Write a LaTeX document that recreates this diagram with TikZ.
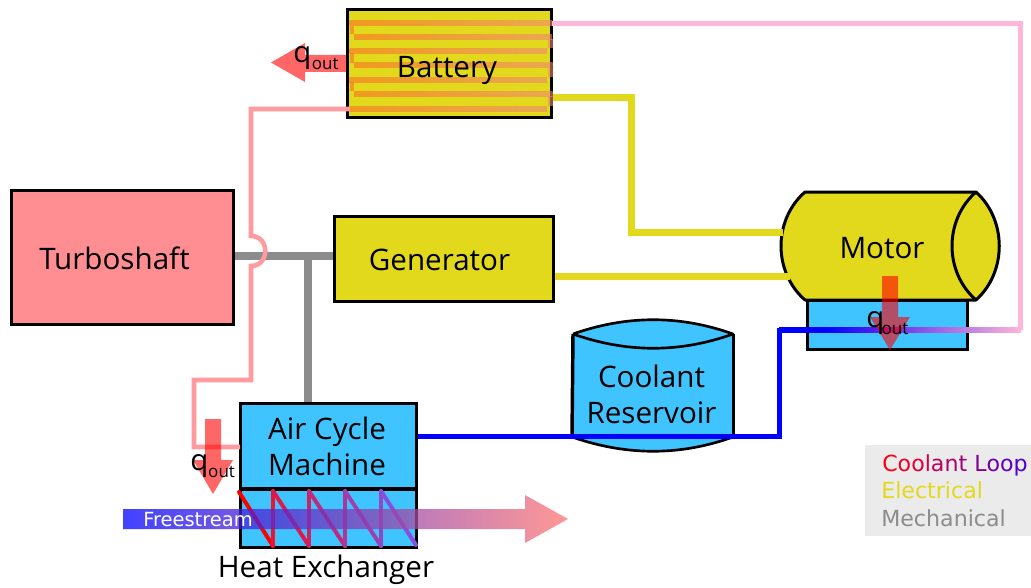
\documentclass[tikz,border=0pt]{standalone}
\usepackage{fontspec}
\setmainfont{Open Sans}
\newfontfamily\legendfont{DejaVu Sans}
\usetikzlibrary{calc}
\definecolor{ylw}{HTML}{E3D91C}
\definecolor{sky}{HTML}{40C4FF}
\definecolor{rosy}{HTML}{FF8E93}
\definecolor{mech}{HTML}{8C8C8C}
\definecolor{hotline}{HTML}{FF9A9F}
\definecolor{coldpink}{HTML}{FFB6D9}
\definecolor{serpA}{HTML}{F97022}
\definecolor{serpB}{HTML}{F08773}
\newcommand{\serpbar}[3]{\shade[left color=serpA,right color=serpB,opacity=.6] (#1,#3-2.5) rectangle (#2,#3+2.5);}
\newcommand{\qoutlabel}[1]{\fontsize{22}{26}\selectfont q\kern#1\raisebox{-5.25pt}{\fontsize{12.75}{15}\selectfont out}}
\tikzset{
  x=0.75pt,y=-0.75pt,
  blockbox/.style={draw=black,line width=2.25pt,inner sep=0pt,align=center},
  plainlabel/.style={inner sep=0pt,align=center,font=\fontsize{22.2}{27}\selectfont},
  shapeline/.style={draw=black,line width=2.25pt,line join=round},
  mechline/.style={draw=mech,line width=6pt},
  elecline/.style={draw=ylw,line width=5.25pt},
  hotpipe/.style={draw=hotline,line width=3.4pt},
  coldpipe/.style={draw=coldpink,line width=3.75pt},
  heatarrow/.style={fill=red,opacity=.6},
  qlabel/.style={inner sep=0pt,anchor=base west},
  legendlabel/.style={inner sep=0pt,anchor=base west,font=\legendfont\fontsize{16.6}{18}\selectfont},
}
\begin{document}
\begin{tikzpicture}
\useasboundingbox (0,0) rectangle (1031,588);
% legend
\fill[black!8] (865,445) rectangle (1031,536);
\node[legendlabel] (legA) at (882,471) {\textcolor[HTML]{FF0014}{C}\textcolor[HTML]{EE0028}{o}\textcolor[HTML]{E0003C}{o}\textcolor[HTML]{D20046}{l}\textcolor[HTML]{C0005A}{a}\textcolor[HTML]{B0006A}{n}\textcolor[HTML]{A00078}{t} \textcolor[HTML]{800090}{L}\textcolor[HTML]{7000A5}{o}\textcolor[HTML]{6000B8}{o}\textcolor[HTML]{5000CC}{p}};
\node[legendlabel,text=ylw] (legB) at (881,498) {Electrical};
\node[legendlabel,text=mech] (legC) at (881,526) {Mechanical};
% ports
\coordinate (batHot) at (350,109);
\coordinate (batPink) at (552,23.5);
\coordinate (batElec) at (553,98);
\coordinate (motElecA) at (783,232);
\coordinate (genElec) at (555,276);
\coordinate (motElecB) at (790,276);
\coordinate (acmHot) at (240,447);
\coordinate (acmCold) at (418,436.5);
\coordinate (gearT) at (308,256);
% mechanical
\node[blockbox,fill=rosy,minimum width=166.5pt,minimum height=100.5pt] (turbo) at (122,257) {};
\node[blockbox,fill=ylw,minimum width=164.5pt,minimum height=64pt] (gen) at (444,259) {};
\node[blockbox,fill=sky,minimum width=132pt,minimum height=64pt] (acm) at (328.5,446) {};
\node[blockbox,fill=sky,minimum width=132pt,minimum height=43.5pt] (hx) at (328.5,518) {};
\draw[mechline] (turbo.east |- gearT) -- (gen.west |- gearT);
\draw[mechline] (gearT) -- (acm.north -| gearT);
% battery
\node[blockbox,fill=ylw,minimum width=153.4pt,minimum height=81pt] (bat) at (449.5,64) {};
\serpbar{349.5}{552}{23.5}
\serpbar{354}{552}{37}
\serpbar{349.5}{547}{51}
\serpbar{354}{552.5}{65.5}
\serpbar{349.5}{547}{80}
\serpbar{354}{552.5}{94}
\serpbar{349.5}{547}{109}
\fill[serpA,opacity=.6] (349.5,26) rectangle (354,34.5);
\fill[serpB,opacity=.6] (547.5,39.5) rectangle (552.5,48.5);
\fill[serpA,opacity=.6] (349.5,53.5) rectangle (354,63);
\fill[serpB,opacity=.6] (547.5,68) rectangle (552.5,77.5);
\fill[serpA,opacity=.6] (349.5,82.5) rectangle (354,91.5);
\fill[serpB,opacity=.6] (547.5,96.5) rectangle (552.5,106.5);
% motor
\node[blockbox,fill=sky,minimum width=120pt,minimum height=36.75pt] (motblock) at (887.5,325) {};
\filldraw[shapeline,fill=ylw] (805,192) -- (976,192) .. controls (1007,220) and (1007,272) .. (976,300) -- (805,300) .. controls (773,272) and (773,220) .. (805,192) -- cycle;
\draw[shapeline] (976,192) .. controls (944,220) and (944,272) .. (976,300);
% reservoir
\fill[sky] (573,334) .. controls (627,315) and (680,315) .. (733,334) -- (733,437) .. controls (680,456) and (627,456) .. (572,437) -- cycle;
\draw[shapeline,line width=2pt] (573,334) .. controls (627,315) and (680,315) .. (733,334) .. controls (680,353) and (627,353) .. (573,334);
\draw[shapeline,line width=2.6pt] (573,334) -- (572,437);
\draw[shapeline] (733,334) -- (733,437);
\draw[shapeline,line width=2pt] (572,437) .. controls (627,456) and (680,456) .. (733,437);
% electrical
\draw[elecline] (batElec) -| (631,232) -- (motElecA);
\draw[elecline] (genElec) -- (motElecB);
% hot return
\coordinate (bumpT) at (251,236);
\coordinate (bumpB) at (251,266);
\draw[hotpipe] (batHot) -- (251,109) -- (bumpT) .. controls (270,236) and (270,266) .. (bumpB) -- (251,380) -- (194,380) -- (194,447) -- (acmHot);
% cold pipes
\coordinate (topCorner) at (1020.5,23.5);
\coordinate (sideCorner) at (1020.5,330);
\coordinate (coldCorner) at (779,436.5);
\coordinate (coldUp) at (779,330);
\coordinate (midGrad) at (870,330);
\draw[draw=blue,line width=3.75pt] (acmCold) -- (coldCorner) -- (coldUp) -- (midGrad);
\shade[left color=blue,right color={rgb,255:red,75;green,30;blue,240},middle color=blue] (779,327.5) rectangle (870,332.5);
\shade[left color={rgb,255:red,75;green,30;blue,240},right color=coldpink] (870,327.5) rectangle (1021,332.5);
\draw[coldpipe] (batPink) -- (topCorner) -- (sideCorner);
% exchanger zigzag
\coordinate (z0) at (239,492);\coordinate (z1) at (273,546);\coordinate (z2) at (273,491);
\coordinate (z3) at (309,546);\coordinate (z4) at (309,491);
\coordinate (z5) at (345,546);\coordinate (z6) at (345,491);
\coordinate (z7) at (381,546);\coordinate (z8) at (381,491);\coordinate (z9) at (416,545);
\begin{scope}[line width=3pt,line join=round,line cap=round]
\draw[draw={rgb,255:red,255;green,0;blue,0}] (z0) -- (z1);
\draw[draw={rgb,255:red,235;green,20;blue,50}] (z1) -- (z2);
\draw[draw={rgb,255:red,222;green,25;blue,75}] (z2) -- (z3);
\draw[draw={rgb,255:red,205;green,35;blue,100}] (z3) -- (z4);
\draw[draw={rgb,255:red,190;green,45;blue,125}] (z4) -- (z5);
\draw[draw={rgb,255:red,172;green,55;blue,150}] (z5) -- (z6);
\draw[draw={rgb,255:red,158;green,65;blue,175}] (z6) -- (z7);
\draw[draw={rgb,255:red,145;green,72;blue,195}] (z7) -- (z8);
\draw[draw={rgb,255:red,135;green,78;blue,225}] (z8) -- (z9);
\end{scope}
% freestream
\shade[left color=blue,right color={rgb,255:red,255;green,116;blue,112},opacity=.74] (123,509) -- (525,509) -- (525,495) -- (568,519) -- (525,543) -- (525,529) -- (123,529) -- cycle;
\node[inner sep=0pt,anchor=base west,text=white,font=\legendfont\fontsize{14.6}{17}\selectfont] (free) at (143,526) {Freestream};
% heat arrows
\fill[heatarrow] (346,55) -- (305,55) -- (305,43) -- (271,62.5) -- (305,82) -- (305,72) -- (346,72) -- cycle;
\fill[heatarrow] (205,419) -- (221,419) -- (221,460) -- (233,460) -- (213,494) -- (193,460) -- (205,460) -- cycle;
\fill[heatarrow] (882,276) -- (898,276) -- (898,317) -- (910,317) -- (890,350) -- (870,317) -- (882,317) -- cycle;
% labels
\node[qlabel] (qA) at (293,63) {\qoutlabel{0.5pt}};
\node[qlabel] (qB) at (190,470) {\qoutlabel{0pt}};
\node[qlabel] (qC) at (866,327) {\qoutlabel{-2pt}};
\node[plainlabel] (lt) at (114.5,258) {Turboshaft};
\node[plainlabel] (lg) at (439.5,260) {Generator};
\node[plainlabel] (lb) at (447,70) {Battery};
\node[plainlabel] (lm) at (882,248) {Motor};
\node[plainlabel] (lr) at (651.5,394) {Coolant\\Reservoir};
\node[plainlabel] (la) at (327,446.5) {Air Cycle\\Machine};
\node[plainlabel] (lh) at (326,570) {Heat Exchanger};
\end{tikzpicture}
\end{document}
